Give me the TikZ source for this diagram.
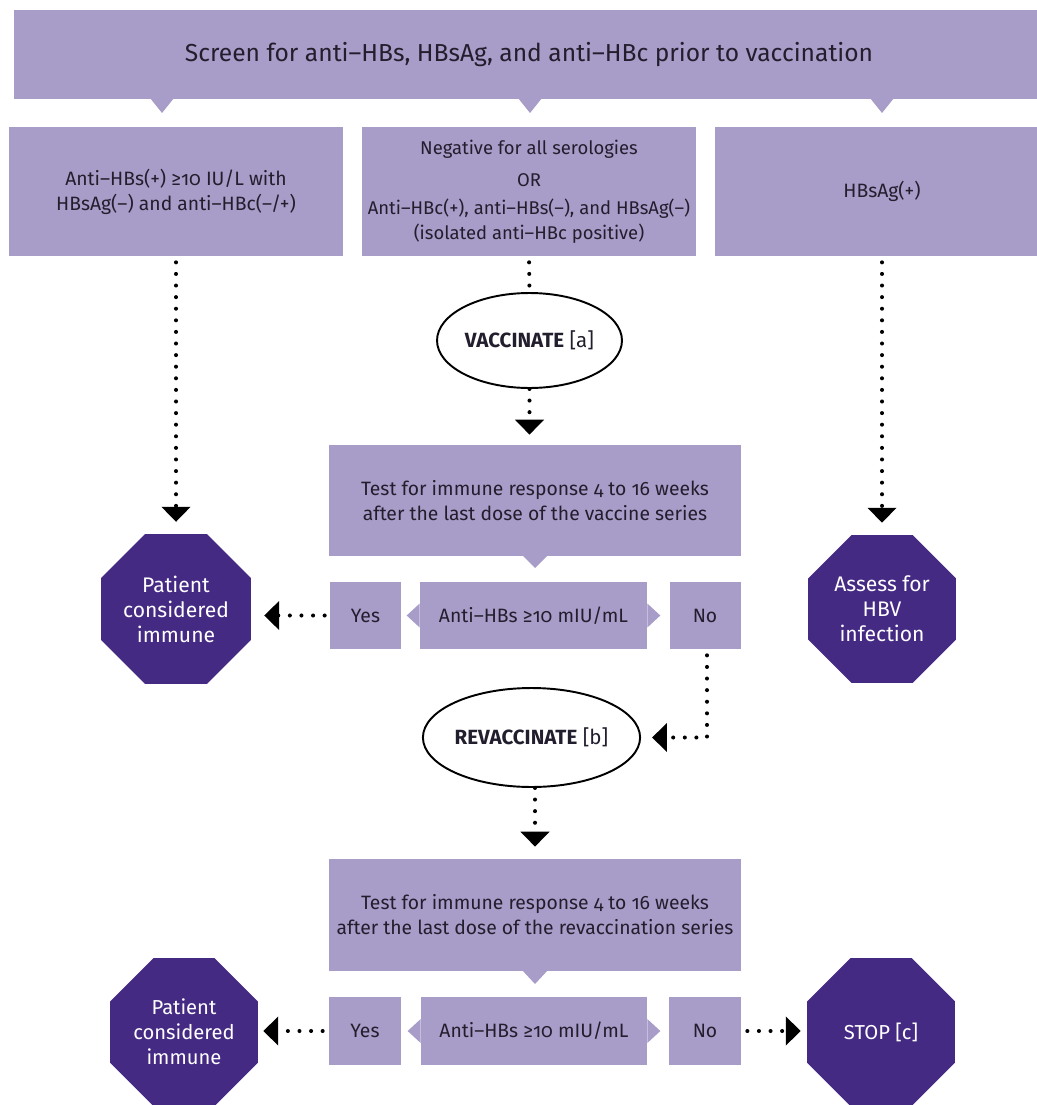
\documentclass[tikz,border=0pt]{standalone}
\usepackage{fontspec}
\setmainfont{Fira Sans}[Numbers=OldStyle]
\usetikzlibrary{arrows.meta}
\usetikzlibrary{shapes.geometric}

\definecolor{lilac}{RGB}{168,156,200}
\definecolor{plum}{RGB}{69,42,132}
\definecolor{ink}{RGB}{35,30,45}

\tikzset{
  box/.style={fill=lilac, text=ink, align=center, inner sep=0pt, font=\fontsize{11}{14.2}\selectfont},
  stopsign/.style={regular polygon, regular polygon sides=8, minimum size=3.2cm, inner sep=0pt,
    fill=plum, text=white, align=center, font=\fontsize{12}{14.2}\selectfont},
  oval/.style={ellipse, draw=black, line width=1.1pt, inner sep=0pt, text=ink, font=\fontsize{11.7}{13}\selectfont},
  dotline/.style={line width=2.3pt, line cap=round, dash pattern=on 0pt off 6.6pt},
  dotarrow/.style={dotline, -{Triangle[length=8.5pt, width=16pt]}},
}

\begin{document}
\begin{tikzpicture}[x=0.02cm, y=-0.02cm]
\useasboundingbox (0,0) rectangle (1037,1105);
\clip (0,0) rectangle (1037,1105);

\node[box, minimum width=20.6cm, minimum height=1.78cm, font=\fontsize{14}{16}\selectfont] (screen) at (529,54.5)
  {Screen for anti–HBs, HBsAg, and anti–HBc prior to vaccination};
\foreach \px in {162,530,882}
  \fill[lilac] (\px-12,98) -- (\px,113) -- (\px+12,98) -- cycle;

\node[box, minimum width=6.68cm, minimum height=2.58cm] (immunebox) at (176,191.5)
  {Anti–HBs(+) ≥10 IU/L with\\HBsAg(–) and anti–HBc(–/+)};
\node[box, minimum width=6.68cm, minimum height=2.58cm, font=\fontsize{10.5}{14.2}\selectfont] (negbox) at (529,191.5)
  {Negative for all serologies\\[4pt]OR\\[2pt]Anti–HBc(+), anti–HBs(–), and HBsAg(–)\\(isolated anti–HBc positive)};
\node[box, minimum width=6.68cm, minimum height=2.58cm] (posbox) at (882,191.5) {HBsAg(+)};

\node[oval, minimum width=3.7cm, minimum height=1.9cm] (vacc) at (529.5,340.5)
  {\textbf{VACCINATE} [a]};

\node[box, minimum width=8.24cm, minimum height=2.22cm] (test) at (535,500.5)
  {Test for immune response 4 to 16 weeks\\after the last dose of the vaccine series};
\fill[lilac] (522,555) -- (535,568) -- (548,555) -- cycle;

\node[box, minimum width=1.42cm, minimum height=1.34cm] (yes) at (365.5,615.5) {Yes};
\node[box, minimum width=4.54cm, minimum height=1.34cm] (titer) at (533.5,615.5) {Anti–HBs ≥10 mIU/mL};
\fill[lilac] ([yshift=0.24cm]titer.east) -- ++(13,12) -- ++(-13,12) -- cycle;
\fill[lilac] ([yshift=0.24cm]titer.west) -- ++(-13,12) -- ++(13,12) -- cycle;
\node[box, minimum width=1.42cm, minimum height=1.34cm] (no) at (705,615.5) {No};

\node[stopsign] (immune) at (176,609) {Patient\\considered\\immune};
\node[stopsign] (hbv) at (882,609) {Assess for\\HBV\\infection};

\node[oval, minimum width=3.7cm, minimum height=1.98cm] (revacc) at (531.5,737.5)
  {\textbf{REVACCINATE} [b]};

\node[box, minimum width=8.24cm, minimum height=2.24cm] (retest) at (535,915)
  {Test for immune response 4 to 16 weeks\\after the last dose of the revaccination series};
\fill[lilac] (522,970) -- (535,984) -- (548,970) -- cycle;

\node[box, minimum width=1.44cm, minimum height=1.36cm] (reyes) at (365,1031) {Yes};
\node[box, minimum width=4.52cm, minimum height=1.36cm] (retiter) at (534,1031) {Anti–HBs ≥10 mIU/mL};
\fill[lilac] ([yshift=0.24cm]retiter.east) -- ++(13,12) -- ++(-13,12) -- cycle;
\fill[lilac] ([yshift=0.24cm]retiter.west) -- ++(-13,12) -- ++(13,12) -- cycle;
\node[box, minimum width=1.44cm, minimum height=1.36cm] (reno) at (705,1031) {No};

\node[stopsign, font=\fontsize{11.5}{14.2}\selectfont] (reimmune) at (184,1032) {Patient\\considered\\immune};
\node[stopsign, font=\fontsize{11.5}{14.2}\selectfont] (stop) at (881,1032) {STOP [c]};

\draw[dotarrow, shorten <=0.12cm, shorten >=0.24cm] (immunebox) -- (immune);
\draw[dotarrow, shorten <=0.12cm, shorten >=0.24cm] (posbox) -- (hbv);
\draw[dotline, shorten <=0.12cm] (negbox.south) -- (vacc.north);
\draw[dotarrow, shorten >=0.2cm] (vacc.south) -- (vacc.south |- test.north);
\draw[dotarrow, shorten <=0.1cm, shorten >=0.26cm] (yes.west) -- (yes.west -| immune.east);
\draw[dotarrow, shorten <=0.12cm, shorten >=0.22cm] ([xshift=0.04cm]no.south) |- (revacc.east);
\draw[dotarrow, shorten >=0.24cm] (revacc.south -| retest.north) -- (retest.north);
\draw[dotarrow, shorten <=0.12cm, shorten >=0.1cm] (reyes.west) -- (reyes.west -| reimmune.east);
\draw[dotarrow, shorten <=0.12cm, shorten >=0.12cm] (reno.east) -- (reno.east -| stop.west);
\end{tikzpicture}
\end{document}
